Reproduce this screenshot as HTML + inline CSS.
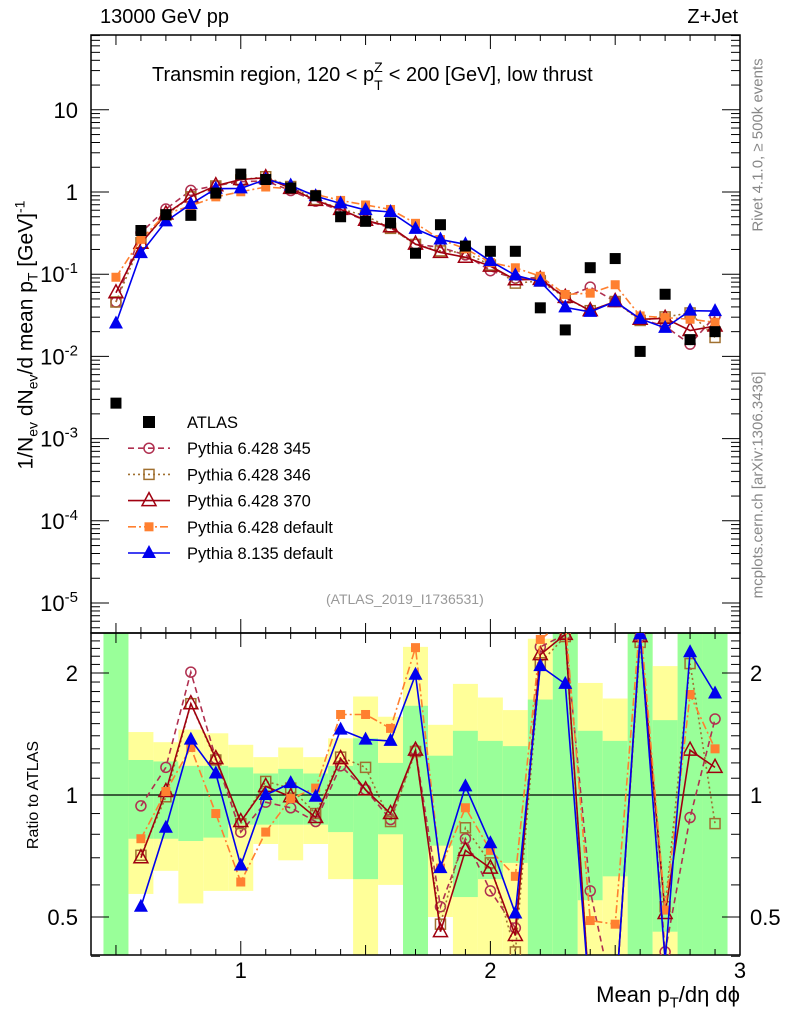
<!DOCTYPE html>
<html><head><meta charset="utf-8"><style>
body{margin:0;background:#fff}
svg{display:block;font-family:"Liberation Sans",sans-serif}
</style></head><body>
<svg id="c" width="786" height="1024" viewBox="0 0 786 1024"></svg>
<script>
const xs=[0.5,0.6,0.7,0.8,0.9,1.0,1.1,1.2,1.3,1.4,1.5,1.6,1.7,1.8,1.9,2.0,2.1,2.2,2.3,2.4,2.5,2.6,2.7,2.8,2.9];
const atlas=[0.0027,0.34,0.53,0.52,0.97,1.65,1.42,1.12,0.90,0.50,0.44,0.42,0.18,0.40,0.22,0.19,0.19,0.039,0.021,0.12,0.155,0.0115,0.057,0.016,0.020];
const r345=[17,0.94,1.17,2.01,1.23,0.81,0.96,0.93,0.86,1.18,1.03,0.87,1.29,0.53,0.78,0.58,0.47,2.32,2.49,0.58,0.3,2.46,0.41,0.88,1.54];
const r346=[17,0.71,0.99,1.68,1.22,0.85,1.08,1.04,0.90,1.24,1.17,0.86,1.28,0.48,0.83,0.68,0.41,2.12,2.46,0.3,0.3,2.38,0.53,2.11,0.85];
const r370=[22,0.70,1.02,1.68,1.23,0.86,1.05,0.99,0.88,1.23,1.03,0.90,1.29,0.46,0.73,0.66,0.45,2.22,2.49,0.3,0.3,2.46,0.51,1.29,1.17];
const rOrange=[34,0.78,1.02,1.31,0.90,0.61,0.81,0.98,1.04,1.58,1.58,1.46,2.31,0.66,0.93,0.73,0.63,2.42,2.7,0.49,0.48,2.7,0.52,1.77,1.30];
const rBlue=[9.3,0.53,0.83,1.37,1.13,0.67,1.0,1.07,0.99,1.45,1.37,1.36,1.98,0.66,1.05,0.76,0.51,2.08,1.88,0.29,0.3,2.49,0.39,2.25,1.78];
const bandYelLo=[0.3,0.57,0.65,0.54,0.58,0.58,0.757,0.69,0.757,0.62,0.3,0.60,0.3,0.50,0.3,0.3,0.3,0.3,0.3,0.3,0.3,0.3,0.3,0.3,0.3];
const bandYelHi=[3,1.43,1.35,1.45,1.42,1.33,1.24,1.31,1.24,1.38,1.75,1.56,2.32,1.49,1.88,1.74,1.62,2.43,3,1.89,1.73,3,2.08,3,3];
const bandGrnLo=[0.3,0.78,0.78,0.77,0.785,0.845,0.845,0.845,0.845,0.81,0.62,0.80,0.3,0.75,0.56,0.62,0.68,0.3,0.3,0.55,0.63,0.3,0.46,0.3,0.3];
const bandGrnHi=[3,1.22,1.21,1.18,1.18,1.17,1.13,1.16,1.13,1.18,1.38,1.20,1.66,1.25,1.44,1.36,1.32,1.72,3,1.44,1.36,3,1.53,3,3];
const xTicks=[1,2,3];
const yTicksMain=[-5,-4,-3,-2,-1,0,1];
const yTicksRatio=[0.5,1,2];

const S=document.getElementById('c');const NS='http://www.w3.org/2000/svg';
function el(t,a,p){const e=document.createElementNS(NS,t);for(const k in a)e.setAttribute(k,a[k]);(p||S).appendChild(e);return e;}
const L=91,R=740,T=35,MB=633,RB=955;
const X=v=>L+(v-0.4)/(2.6)*(R-L);
const Y=v=>192-82.2*Math.log10(v);
const YR=v=>{const r=Math.min(Math.max(v,0.3),3);return 795-122*Math.log2(r);};
const defs=el('defs',{});
const c1=el('clipPath',{id:'cm'},defs);el('rect',{x:L,y:T,width:R-L,height:MB-T},c1);
const c2=el('clipPath',{id:'cr'},defs);el('rect',{x:L,y:MB,width:R-L,height:RB-MB},c2);
const gb=el('g',{'clip-path':'url(#cr)'});
xs.forEach((x,i)=>{
 const x0=X(x-0.05),w=X(x+0.05)-x0;
 const y=el('rect',{x:x0,y:YR(bandYelHi[i]),width:w,height:YR(bandYelLo[i])-YR(bandYelHi[i]),fill:'#ffff99'},gb);
 
 const g=el('rect',{x:x0,y:YR(bandGrnHi[i]),width:w,height:YR(bandGrnLo[i])-YR(bandGrnHi[i]),fill:'#99ff99'},gb);
 
});
el('line',{x1:L,x2:R,y1:795,y2:795,stroke:'#000','stroke-width':1.3});
el('rect',{x:L,y:T,width:R-L,height:MB-T,fill:'none',stroke:'#000','stroke-width':1.5});
el('rect',{x:L,y:MB,width:R-L,height:RB-MB,fill:'none',stroke:'#000','stroke-width':1.5});
for(let k=4;k<=30;k++){const v=k/10,x=X(v);const len=(k%10==0)?14:(k%5==0?10:6);
 [[T,1],[MB,-1],[MB,1],[RB,-1]].forEach(([y0,d])=>el('line',{x1:x,x2:x,y1:y0,y2:y0+d*len,stroke:'#000'}));}
xTicks.forEach(v=>{const t=el('text',{x:X(v),y:978,'font-size':22,'text-anchor':'middle'});t.textContent=v;});
for(let d=-6;d<=1;d++){for(let m=1;m<10;m++){const v=m*Math.pow(10,d),y=Y(v);if(y<T||y>MB)continue;const len=m==1?18:9;
 el('line',{x1:L,x2:L+len,y1:y,y2:y,stroke:'#000'});el('line',{x1:R,x2:R-len,y1:y,y2:y,stroke:'#000'});}}
yTicksMain.forEach(e=>{const y=Y(Math.pow(10,e));const t=el('text',{x:78,y:y+8,'font-size':22,'text-anchor':'end'});
 if(e==0)t.textContent='1';else if(e==1)t.textContent='10';
 if(e<=-1){t.textContent='10';const s=el('tspan',{dy:-9,'font-size':15},t);s.textContent=String(e);} });
for(let v=0.4;v<=2.5;v+=0.1){const y=YR(v);const len=[0.5,1,2].some(q=>Math.abs(q-v)<1e-6)?18:9;
 el('line',{x1:L,x2:L+len,y1:y,y2:y,stroke:'#000'});el('line',{x1:R,x2:R-len,y1:y,y2:y,stroke:'#000'});}
yTicksRatio.forEach(v=>{[[78,'end'],[750,'start']].forEach(([x,a])=>{const t=el('text',{x:x,y:YR(v)+8,'font-size':22,'text-anchor':a});t.textContent=v;});});
const series=[
 {n:'pythia-6428-345',r:r345,c:'#b03050',dash:'6,4',m:'circle'},
 {n:'pythia-6428-346',r:r346,c:'#a07030',dash:'2,3',m:'square'},
 {n:'pythia-6428-370',r:r370,c:'#a00010',dash:'',m:'tri'},
 {n:'pythia-6428-default',r:rOrange,c:'#ff8030',dash:'8,3,2,3',m:'fsquare'},
 {n:'pythia-8135-default',r:rBlue,c:'#0000ee',dash:'',m:'ftri'}];
function marker(g,m,x,y,c){
 if(m=='circle')return el('circle',{cx:x,cy:y,r:5,fill:'none',stroke:c,'stroke-width':1.5},g);
 if(m=='square')return el('rect',{x:x-5,y:y-5,width:10,height:10,fill:'none',stroke:c,'stroke-width':1.5},g);
 if(m=='fsquare')return el('rect',{x:x-4.5,y:y-4.5,width:9,height:9,fill:c},g);
 if(m=='tri')return el('polygon',{points:`${x},${y-8} ${x-7},${y+5} ${x+7},${y+5}`,fill:'none',stroke:c,'stroke-width':1.5},g);
 return el('polygon',{points:`${x},${y-8} ${x-7},${y+5} ${x+7},${y+5}`,fill:c},g);
}
series.forEach(s=>{
 const gm=el('g',{'clip-path':'url(#cm)'});
 const pts=xs.map((x,i)=>[X(x),Y(s.r[i]*atlas[i])]);
 el('polyline',{points:pts.map(p=>p.join(',')).join(' '),fill:'none',stroke:s.c,'stroke-width':1.6,'stroke-dasharray':s.dash},gm);
 pts.forEach(p=>{const mk=marker(gm,s.m,p[0],p[1],s.c);});
 const gr=el('g',{'clip-path':'url(#cr)'});
 const rp=xs.map((x,i)=>[X(x),YR(s.r[i])]).slice(1);
 el('polyline',{points:rp.map(p=>p.join(',')).join(' '),fill:'none',stroke:s.c,'stroke-width':1.6,'stroke-dasharray':s.dash},gr);
 rp.forEach(p=>{const mk=marker(gr,s.m,p[0],p[1],s.c);});
});
const ga=el('g',{'clip-path':'url(#cm)'});
xs.forEach((x,i)=>{const r=el('rect',{x:X(x)-5.5,y:Y(atlas[i])-5.5,width:11,height:11,fill:'#000'},ga);});
const leg=[['ATLAS','#000','','atlas'],['Pythia 6.428 345','#b03050','6,4','circle'],['Pythia 6.428 346','#a07030','2,3','square'],['Pythia 6.428 370','#a00010','','tri'],['Pythia 6.428 default','#ff8030','8,3,2,3','fsquare'],['Pythia 8.135 default','#0000ee','','ftri']];
leg.forEach((l,i)=>{const y=422+i*26.2;const g=el('g',{});
 if(l[3]=='atlas')el('rect',{x:143,y:y-6,width:12,height:12,fill:'#000'},g);
 else{el('line',{x1:128,x2:170,y1:y,y2:y,stroke:l[1],'stroke-width':1.6,'stroke-dasharray':l[2]},g);marker(g,l[3],149,y,l[1]);}
 const t=el('text',{x:187,y:y+6,'font-size':16.5},g);t.textContent=l[0];});
</script>
<div style="position:absolute;left:0;top:0;width:786px;height:1024px;pointer-events:none;font-family:'Liberation Sans',sans-serif">
<div style="position:absolute;left:100px;top:6px;font-size:20px">13000 GeV pp</div>
<div style="position:absolute;right:48px;top:6px;font-size:20px">Z+Jet</div>
<div style="position:absolute;left:152px;top:64px;font-size:20px;white-space:nowrap">Transmin region, 120 &lt; p<span style="display:inline-block;position:relative;width:9px;height:10px"><span style="position:absolute;left:0;top:-12px;font-size:14px">Z</span><span style="position:absolute;left:0;top:6px;font-size:14px">T</span></span> &lt; 200 [GeV], low thrust</div>
<div style="position:absolute;left:326px;top:591px;font-size:14px;color:#999">(ATLAS_2019_I1736531)</div>
<div style="position:absolute;left:26px;top:335px;transform:translate(-50%,-50%) rotate(-90deg);font-size:21px;white-space:nowrap">1/N<sub style="font-size:14px">ev</sub> dN<sub style="font-size:14px">ev</sub>/d mean p<sub style="font-size:14px">T</sub> [GeV]<sup style="font-size:14px">-1</sup></div>
<div style="position:absolute;left:34px;top:795px;transform:translate(-50%,-50%) rotate(-90deg);font-size:16px;white-space:nowrap">Ratio to ATLAS</div>
<div style="position:absolute;right:46px;top:982px;font-size:22px;white-space:nowrap">Mean p<sub style="font-size:15px">T</sub>/dη dϕ</div>
<div style="position:absolute;left:758px;top:145px;transform:translate(-50%,-50%) rotate(-90deg);font-size:15px;color:#888;white-space:nowrap">Rivet 4.1.0, ≥ 500k events</div>
<div style="position:absolute;left:758px;top:485px;transform:translate(-50%,-50%) rotate(-90deg);font-size:15px;color:#888;white-space:nowrap">mcplots.cern.ch [arXiv:1306.3436]</div>
</div>
</body></html>
